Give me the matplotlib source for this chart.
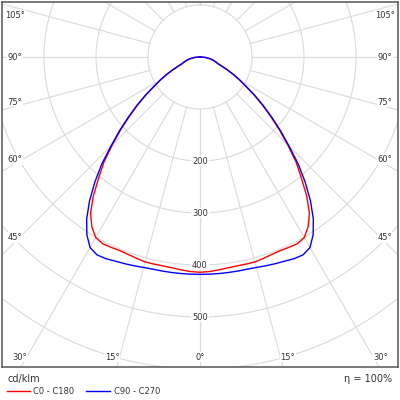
import numpy as np
import matplotlib.pyplot as plt
from matplotlib.lines import Line2D

# luminous intensity (cd/klm) vs gamma angle, symmetric halves
gamma = np.arange(0, 90.1, 2.5)
c0_c180 = [414, 413, 411, 409, 408, 408, 408, 406, 404, 403, 404, 405, 401,
           387, 367, 337, 303, 273, 238, 207, 177, 151, 127, 104, 87, 71, 57,
           44, 36, 32, 28, 24, 20, 15, 10, 5, 0]
c90_c270 = [418, 418, 418, 418, 418, 418, 419, 421, 423, 425, 428, 429, 423,
            405, 380, 349, 315, 280, 242, 210, 180, 153, 128, 105, 88, 72, 57,
            44, 36, 32, 28, 24, 20, 15, 10, 5, 0]
rings = [100, 200, 300, 400, 500, 600]
ring_labels = [200, 300, 400, 500]
angle_labels = [0, 15, 30, 45, 60, 75, 90, 105]

PX = 0.52          # pixels per cd/klm
CX, CY = 200, 57   # polar centre in pixels (from top left)
GRID = '#dadada'
TXT = '#333333'

fig = plt.figure(figsize=(4, 4), dpi=100)
ax = fig.add_axes([2 / 400, 33 / 400, 396 / 400, 365 / 400])
ax.set_xlim(-198 / PX, 198 / PX)
ax.set_ylim(-310 / PX, 55 / PX)
ax.set_xticks([])
ax.set_yticks([])
for sp in ax.spines.values():
    sp.set_color('#555555')
    sp.set_linewidth(1.1)


def to_data(px, py):
    return (px - CX) / PX, (CY - py) / PX


# grid circles
t = np.linspace(0, 2 * np.pi, 500)
for r in rings:
    ax.plot(r * np.sin(t), r * np.cos(t), color=GRID, lw=0.8, zorder=1)

# radial lines, starting at the 100 ring
for a in range(0, 181, 15):
    g = np.radians(a)
    for s in (-1, 1):
        ax.plot([s * 100 * np.sin(g), s * 1500 * np.sin(g)],
                [-100 * np.cos(g), -1500 * np.cos(g)],
                color=GRID, lw=0.8, zorder=1)

# curves
g = np.radians(gamma)
for vals, col in ((c0_c180, 'red'), (c90_c270, 'blue')):
    r = np.array(vals, dtype=float)
    x = np.concatenate([-(r * np.sin(g))[::-1], r * np.sin(g)])
    y = np.concatenate([-(r * np.cos(g))[::-1], -r * np.cos(g)])
    ax.plot(x, y, color=col, lw=1.0, zorder=3)

bb = dict(facecolor='white', edgecolor='none', pad=0.6)

# ring labels
for r in ring_labels:
    ax.text(0, -r, str(r), ha='center', va='center', fontsize=6,
            color=TXT, bbox=bb, zorder=4)

# angle labels where rays meet an inner rectangle
L, R, T, B = 15, 385, 15, 357
for a in angle_labels:
    ga = np.radians(a)
    for s in ((1,) if a == 0 else (-1, 1)):
        sx, sy = s * np.sin(ga), np.cos(ga)
        t_side = (R - CX) / abs(sx) if abs(sx) > 1e-9 else np.inf
        t_bot = (B - CY) / sy if sy > 1e-9 else np.inf
        if t_bot < t_side:
            px, py = CX + sx * t_bot, B
            ha = 'center' if a == 0 else ('left' if s > 0 else 'right')
            va = 'center'
        else:
            px = R if s > 0 else L
            py = max(CY + sy * t_side, T)
            ha = 'center'
            va = 'bottom' if a < 90 else 'center'
        xd, yd = to_data(px, py)
        ax.text(xd, yd, f'{a}°', ha=ha, va=va, fontsize=6, color=TXT,
                bbox=bb, zorder=4)

# footer
fig.text(7 / 400, 1 - 379 / 400, 'cd/klm', ha='left', va='center',
         fontsize=7, color=TXT)
fig.text(392 / 400, 1 - 379 / 400, 'η = 100%', ha='right', va='center',
         fontsize=7, color=TXT)
yl = 1 - 391 / 400
fig.add_artist(Line2D([7 / 400, 30 / 400], [yl, yl], color='red', lw=1.0))
fig.text(33 / 400, yl, 'C0 - C180', ha='left', va='center', fontsize=6,
         color=TXT)
fig.add_artist(Line2D([86 / 400, 110 / 400], [yl, yl], color='blue', lw=1.0))
fig.text(114 / 400, yl, 'C90 - C270', ha='left', va='center', fontsize=6,
         color=TXT)

fig.savefig('out.png', dpi=100)
